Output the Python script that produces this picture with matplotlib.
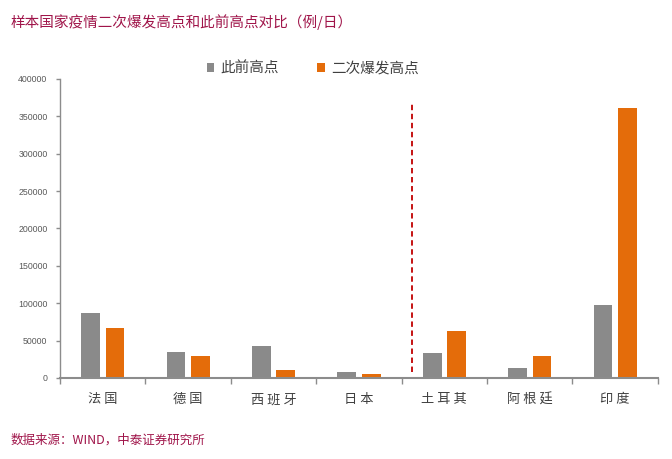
import matplotlib
matplotlib.use("Agg")
import matplotlib.pyplot as plt
import numpy as np

plt.rcParams['font.family'] = ['Noto Sans CJK SC', 'DejaVu Sans']

countries = ["法国", "德国", "西班牙", "日本", "土耳其", "阿根廷", "印度"]
prev_peak = [87000, 34500, 42600, 7700, 33200, 13500, 97800]       # 此前高点
second_peak = [66400, 29200, 10800, 5400, 62800, 29200, 361000]    # 二次爆发高点
yticks = [0, 50000, 100000, 150000, 200000, 250000, 300000, 350000, 400000]

gray = "#8A8A8A"
orange = "#E46C0A"
axis_col = "#8C8C8C"
red_txt = "#A0154A"

fig = plt.figure(figsize=(6.72, 4.59), dpi=100)
ax = fig.add_axes([0.0893, 0.1765, 0.8897, 0.6515])

x = np.arange(len(countries))
w = 0.22
ax.bar(x - 0.143, prev_peak, w, color=gray, label="此前高点")
ax.bar(x + 0.143, second_peak, w, color=orange, label="二次爆发高点")

# divider between first group and second group
ax.plot([3.62, 3.62], [8000, 368000], color="#C00000", ls=(0, (3, 2)), lw=1.3)

ax.set_xlim(-0.5, 6.5)
ax.set_ylim(0, 400000)
ax.set_yticks(yticks)
ax.set_yticklabels([str(v) for v in yticks], family="Liberation Sans", fontsize=6.3, color="#595959")
ax.set_xticks(x)
# spread the characters a bit like the original
ax.set_xticklabels([" ".join(c) for c in countries], fontsize=9.5, color="#404040")
ax.set_xticks(np.arange(-0.5, 7, 1), minor=True)
ax.tick_params(axis="x", which="major", length=0, pad=11)
ax.tick_params(axis="x", which="minor", length=4, color=axis_col, width=1)
ax.tick_params(axis="y", length=3, color=axis_col, width=1, pad=6)

for s in ["top", "right"]:
    ax.spines[s].set_visible(False)
ax.spines["left"].set_color(axis_col)
ax.spines["bottom"].set_color(axis_col)
ax.spines["left"].set_linewidth(1)
ax.spines["bottom"].set_linewidth(1.5)

leg = ax.legend(ncol=2, loc="center", bbox_to_anchor=(0.423, 1.035), frameon=False,
                handlelength=0.5, handleheight=0.5, handletextpad=0.45,
                columnspacing=2.6, fontsize=10.5)
for t in leg.get_texts():
    t.set_color("#404040")

fig.text(0.015, 0.952, "样本国家疫情二次爆发高点和此前高点对比（例/日）",
         fontsize=10.5, color=red_txt, va="center", ha="left")
fig.text(0.015, 0.042, "数据来源：WIND，中泰证券研究所",
         fontsize=9, color=red_txt, va="center", ha="left")

fig.savefig("out.png", dpi=100)
